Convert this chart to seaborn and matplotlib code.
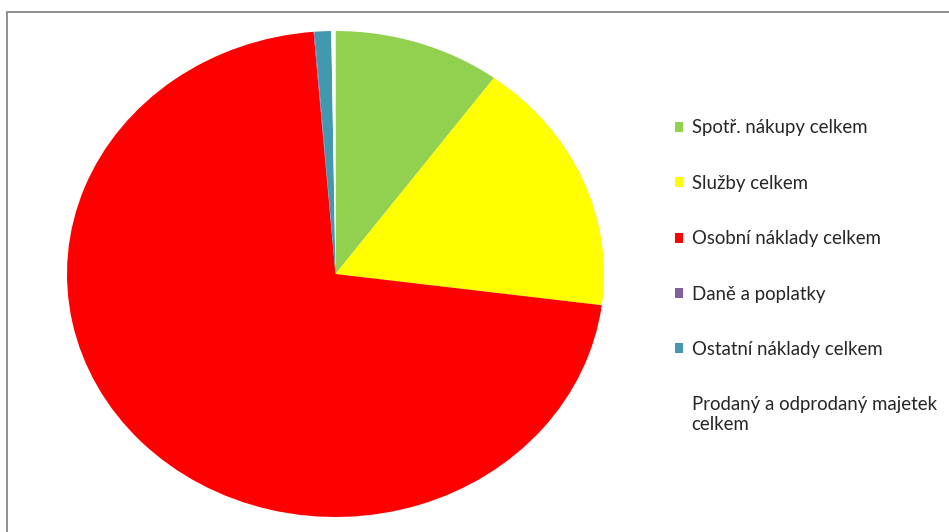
import matplotlib
matplotlib.use("Agg")
import matplotlib.pyplot as plt
import seaborn as sns
from matplotlib.patches import Rectangle

categories = ["Spotř. nákupy celkem", "Služby celkem", "Osobní náklady celkem",
              "Daně a poplatky", "Ostatní náklady celkem",
              "Prodaný a odprodaný majetek\ncelkem"]
values = [10.05, 17.0, 71.65, 0.05, 1.0, 0.25]
colors = ["#92D050", "#FFFF00", "#FF0000", "#7F5F9E", "#4198AF", "#FFFFFF"]

sns.set_theme(style="white")
plt.rcParams['font.family'] = ['Lato', 'DejaVu Sans']

W, H = 949, 532
fig = plt.figure(figsize=(W / 100, H / 100), dpi=100)
fig.patch.set_facecolor("white")

# pie axes (elliptical pie, as in the reference)
ax = fig.add_axes([67 / W, (H - 517) / H, 537 / W, 486 / H])
wedges, _ = ax.pie(values, colors=colors, startangle=90, counterclock=False,
                   radius=1.0, wedgeprops=dict(linewidth=0))
ax.set_aspect('auto')
ax.set_xlim(-1, 1)
ax.set_ylim(-1, 1)
ax.axis('off')

# outer chart frame (partially visible)
frame = Rectangle((6.5 / W, -0.05), 1.2, 1 - 11.5 / H + 0.05,
                  transform=fig.transFigure, fill=False,
                  edgecolor="#878787", linewidth=1.3)
fig.patches.append(frame)

leg = fig.legend(wedges, categories, loc="upper left",
                 bbox_to_anchor=(675 / W, 1 - 119.5 / H),
                 frameon=False, fontsize=13.4, labelcolor="#262626",
                 handlelength=0.45, handleheight=0.45, handletextpad=0.45,
                 labelspacing=2.06, borderaxespad=0, borderpad=0)

fig.savefig("out.png", dpi=100)
